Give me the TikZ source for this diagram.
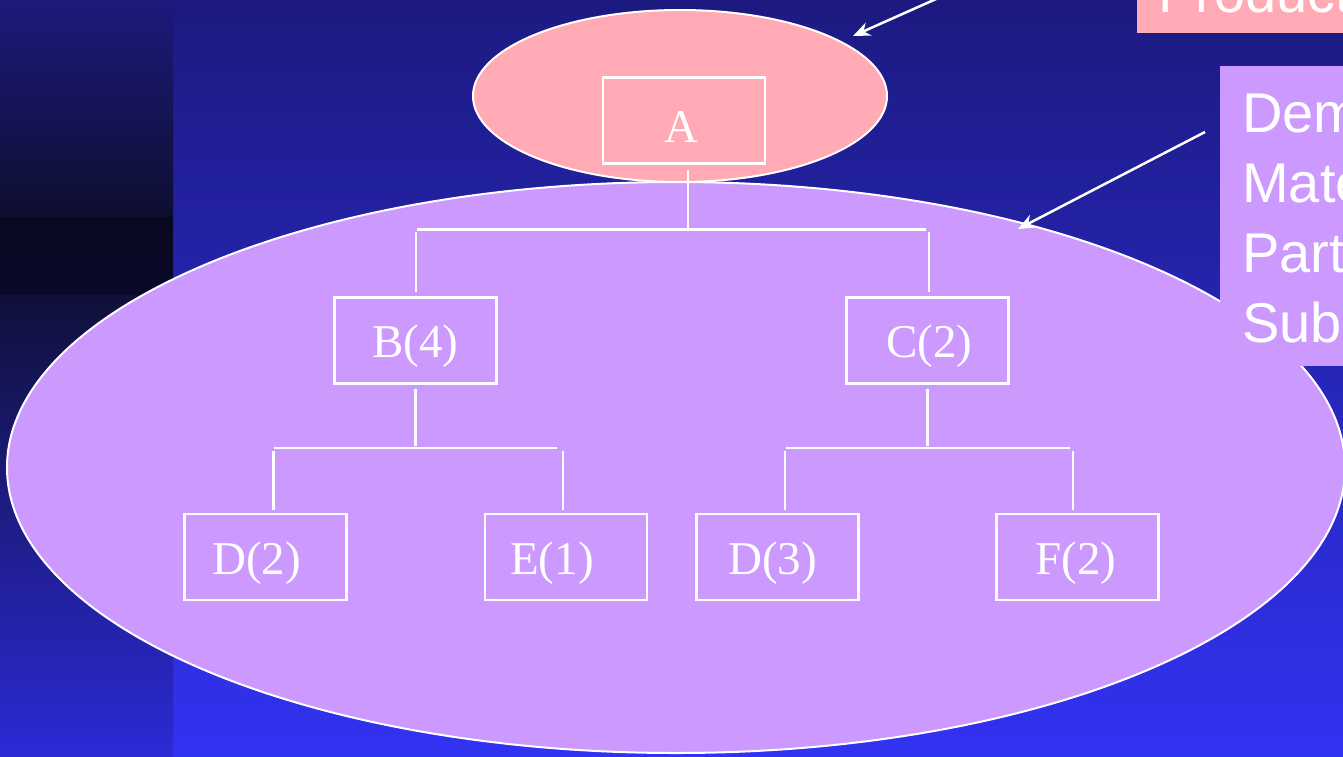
\documentclass[tikz,border=0pt]{standalone}
\usepackage{fontspec}
\setmainfont{Liberation Serif}
\newfontfamily\arialf{Liberation Sans}
\usetikzlibrary{arrows.meta,calc,shapes.geometric}
\definecolor{bgtop}{HTML}{1C1A80}
\definecolor{bgbot}{HTML}{3232F2}
\definecolor{striptop}{HTML}{1C1A7C}
\definecolor{stripmid}{HTML}{0E0E30}
\definecolor{stripdark}{HTML}{00000E}
\definecolor{striplow}{HTML}{10103A}
\definecolor{stripbot}{HTML}{2C2AD6}
\definecolor{pinkc}{HTML}{FFAAB4}
\definecolor{lavc}{HTML}{CC99FF}
\begin{document}
\begin{tikzpicture}[x=1pt,y=-1pt,
  treebox/.style={draw=white,line width=2.5pt,minimum width=162pt,minimum height=86pt,
    inner sep=0pt,text=white,font=\fontsize{47}{56}\selectfont,text height=40pt,text depth=6pt},
  conn/.style={draw=white,line width=2.5pt},
  blob/.style={ellipse,draw=white,line width=2pt,inner sep=0pt},
  callout/.style={draw=white,line width=2.5pt,-{Stealth[length=17pt,width=14pt]}},
  lbl/.style={anchor=base west,text=white,inner sep=0pt,font=\arialf\fontsize{56}{67}\selectfont}]
\useasboundingbox (0,0) rectangle (1343,756);
\clip (0,0) rectangle (1343,756);
% background
\shade[top color=bgtop,bottom color=bgbot] (172,0) rectangle (1343,756);
\shade[top color=striptop,bottom color=stripmid] (0,0) rectangle (173,217);
\shade[top color=stripmid!60!stripdark,middle color=stripdark,bottom color=striplow!60!stripdark] (0,217) rectangle (173,295);
\shade[top color=striplow,bottom color=stripbot] (0,295) rectangle (173,756);
% ellipses
\node[blob,fill=pinkc,minimum width=414pt,minimum height=172pt] (prod) at (680,96) {};
\node[blob,fill=lavc,minimum width=1338pt,minimum height=571pt] (dep) at (676,467.5) {};
% tree boxes
\node[treebox] (A)  at (684,120.5) {\raisebox{-5pt}{A}\kern6pt};
\node[treebox] (B)  at (415.5,340.5) {B(4)};
\node[treebox] (C)  at (927.5,340.5) {\kern4pt C(2)};
\node[treebox] (D2) at (265.5,557) {D(2)\kern18pt};
\node[treebox] (E1) at (566,557) {E(1)\kern28pt};
\node[treebox] (D3) at (777.5,557) {D(3)\kern10pt};
\node[treebox] (F2) at (1077.5,557) {F(2)\kern3pt};
% connectors level 1
\draw[conn] ($(A.south)+(4,5)$) -- ($(A.south)+(4,65)$);
\draw[conn] ($(B.north)+(1.5,-67)$) -- ($(C.north)+(-1.5,-67)$);
\draw[conn] ($(B.north)+(0.5,-64)$) -- ($(B.north)+(0.5,-4)$);
\draw[conn] ($(C.north)+(1.5,-64)$) -- ($(C.north)+(1.5,-4)$);
% connectors under B
\draw[conn] ($(B.south)+(0,4)$) -- ($(B.south)+(0,61)$);
\draw[conn] ($(D2.north)+(8.5,-65)$) -- ($(E1.north)+(-9,-65)$);
\draw[conn] ($(D2.north)+(8,-62)$) -- ($(D2.north)+(8,-3)$);
\draw[conn] ($(E1.north)+(-3,-62)$) -- ($(E1.north)+(-3,-3)$);
% connectors under C
\draw[conn] ($(C.south)+(0,4)$) -- ($(C.south)+(0,61)$);
\draw[conn] ($(D3.north)+(8.5,-65)$) -- ($(F2.north)+(-7.5,-65)$);
\draw[conn] ($(D3.north)+(7.5,-62)$) -- ($(D3.north)+(7.5,-3)$);
\draw[conn] ($(F2.north)+(-4.5,-62)$) -- ($(F2.north)+(-4.5,-3)$);
% label boxes
\node[fill=pinkc,inner sep=0pt,minimum width=260pt,minimum height=140pt,anchor=south west] (prodbox) at (1137,33) {};
\node[lbl] (prodtxt) at (1158,12) {Product};
\node[fill=lavc,inner sep=0pt,minimum width=200pt,minimum height=300pt,anchor=south west] (depbox) at (1220,366) {};
\node[lbl] (dl1) at (1242,132) {Demand};
\node[lbl] (dl2) at (1242,202) {Materials};
\node[lbl] (dl3) at (1242,272) {Parts};
\node[lbl] (dl4) at (1242,342) {Subassemblies};
% callout arrows
\coordinate (s1) at (945,-5);
\coordinate (t1) at (853,36);
\coordinate (s2) at (1205,132);
\coordinate (t2) at (1018,229);
\draw[callout] (s1) -- (t1);
\draw[callout] (s2) -- (t2);
\end{tikzpicture}
\end{document}
